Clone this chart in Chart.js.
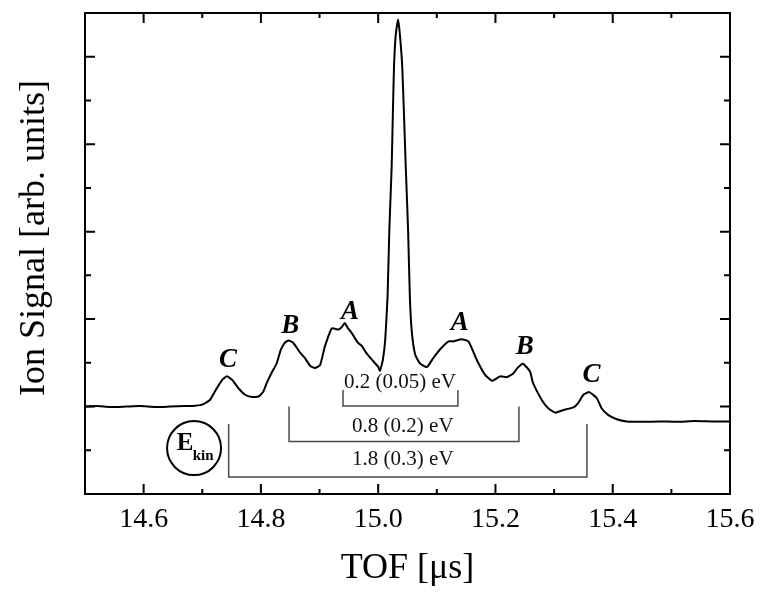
<!DOCTYPE html>
<html>
<head>
<meta charset="utf-8">
<title>TOF spectrum</title>
<script src="https://cdn.jsdelivr.net/npm/chart.js@4.4.1/dist/chart.umd.min.js"></script>
<style>
  html, body { margin: 0; padding: 0; background: #fff; }
  #wrap { width: 761px; height: 594px; }
</style>
</head>
<body>
<div id="wrap"><canvas id="tofChart" width="761" height="594"></canvas></div>
<script>
// time of flight [µs] and ion signal [arb. units]
const tofValues = [
  14.500, 14.520, 14.543, 14.570, 14.594, 14.620, 14.645, 14.670, 14.688, 14.701,
  14.713, 14.723, 14.734, 14.742, 14.751, 14.761, 14.773, 14.785, 14.796, 14.804,
  14.810, 14.819, 14.827, 14.834, 14.841, 14.847, 14.855, 14.867, 14.875, 14.884,
  14.892, 14.901, 14.909, 14.921, 14.932, 14.938, 14.943, 14.948, 14.955, 14.960,
  14.966, 14.972, 14.980, 14.992, 15.000, 15.003, 15.008, 15.012, 15.016, 15.019,
  15.023, 15.025, 15.027, 15.030, 15.034, 15.037, 15.041, 15.044, 15.047, 15.051,
  15.054, 15.057, 15.063, 15.071, 15.083, 15.094, 15.105, 15.120, 15.128, 15.142,
  15.154, 15.168, 15.182, 15.194, 15.208, 15.219, 15.230, 15.238, 15.247, 15.259,
  15.264, 15.279, 15.290, 15.302, 15.316, 15.333, 15.341, 15.350, 15.360, 15.373,
  15.381, 15.392, 15.407, 15.424, 15.450, 15.480, 15.510, 15.540, 15.570, 15.600
];
const signalValues = [
  0.00, 0.01, -0.01, 0.00, 0.01, -0.01, 0.00, 0.01, 0.02, 0.05,
  0.15, 0.38, 0.61, 0.69, 0.61, 0.43, 0.27, 0.22, 0.23, 0.34,
  0.54, 0.79, 0.99, 1.30, 1.46, 1.51, 1.46, 1.23, 1.11, 0.93,
  0.88, 0.95, 1.37, 1.79, 1.76, 1.82, 1.91, 1.80, 1.68, 1.57,
  1.45, 1.39, 1.22, 1.03, 0.91, 0.82, 1.07, 1.53, 2.52, 4.04,
  5.49, 6.68, 7.78, 8.51, 8.85, 8.51, 7.78, 6.68, 5.49, 4.04,
  2.52, 1.76, 1.19, 0.99, 0.90, 1.11, 1.30, 1.49, 1.49, 1.54,
  1.49, 1.07, 0.73, 0.59, 0.69, 0.67, 0.75, 0.89, 0.98, 0.80,
  0.54, 0.15, -0.04, -0.14, -0.08, -0.02, 0.08, 0.27, 0.33, 0.19,
  -0.04, -0.19, -0.29, -0.34, -0.35, -0.34, -0.35, -0.33, -0.34, -0.34
];

const xTickLabels = ["14.6", "14.8", "15.0", "15.2", "15.4", "15.6"];

// peak letters
const peakLetters = ["C", "B", "A", "A", "B", "C"];
const peakLetterX = [14.744, 14.850, 14.952, 15.139, 15.250, 15.364];
const peakLetterY = [1.07, 1.83, 2.17, 1.91, 1.37, 0.73];

// kinetic energy brackets
const bracketTexts = ["0.2 (0.05) eV", "0.8 (0.2) eV", "1.8 (0.3) eV"];
const bracketFrom = [14.940, 14.848, 14.745];
const bracketTo = [15.136, 15.240, 15.356];
const bracketTop = [0.38, 0.00, -0.40];
const bracketBottom = [0.01, -0.80, -1.61];
const bracketTextX = [15.037, 15.042, 15.042];
const bracketTextY = [0.54, -0.46, -1.22];

const SERIF = '"Liberation Serif", "Times New Roman", serif';

const points = tofValues.map((t, i) => ({ x: t, y: signalValues[i] }));

// box, inward ticks and the annotations
const frameAndNotes = {
  id: "frameAndNotes",
  afterDatasetsDraw(chart) {
    const { ctx, chartArea: a, scales: { x, y } } = chart;
    ctx.save();

    // brackets
    ctx.strokeStyle = "#4a4a4a";
    ctx.lineWidth = 1.5;
    ctx.fillStyle = "#111";
    ctx.font = "21px " + SERIF;
    ctx.textAlign = "center";
    ctx.textBaseline = "middle";
    bracketTexts.forEach((txt, i) => {
      const x0 = x.getPixelForValue(bracketFrom[i]);
      const x1 = x.getPixelForValue(bracketTo[i]);
      const yt = y.getPixelForValue(bracketTop[i]);
      const yb = y.getPixelForValue(bracketBottom[i]);
      ctx.beginPath();
      ctx.moveTo(x0, yt);
      ctx.lineTo(x0, yb);
      ctx.lineTo(x1, yb);
      ctx.lineTo(x1, yt);
      ctx.stroke();
      ctx.fillText(txt, x.getPixelForValue(bracketTextX[i]), y.getPixelForValue(bracketTextY[i]));
    });

    // peak letters
    ctx.fillStyle = "#000";
    ctx.font = "italic bold 27px " + SERIF;
    peakLetters.forEach((l, i) => {
      ctx.fillText(l, x.getPixelForValue(peakLetterX[i]), y.getPixelForValue(peakLetterY[i]));
    });

    // E_kin circle
    const cx = x.getPixelForValue(14.686), cy = y.getPixelForValue(-0.95);
    ctx.strokeStyle = "#000";
    ctx.lineWidth = 2;
    ctx.beginPath();
    ctx.arc(cx, cy, 27, 0, Math.PI * 2);
    ctx.stroke();
    ctx.font = "bold 25px " + SERIF;
    ctx.fillText("E", cx - 9, cy - 5);
    ctx.font = "bold 15px " + SERIF;
    ctx.fillText("kin", cx + 9, cy + 8);

    // frame
    ctx.lineWidth = 2;
    ctx.strokeRect(a.left, a.top, a.right - a.left, a.bottom - a.top);

    // x ticks, top and bottom
    ctx.beginPath();
    for (let k = 1; k < 11; k++) {
      const v = 14.5 + k * 0.1;
      const px = x.getPixelForValue(v);
      const len = k % 2 === 1 ? 10 : 5;
      ctx.moveTo(px, a.bottom);
      ctx.lineTo(px, a.bottom - len);
      ctx.moveTo(px, a.top);
      ctx.lineTo(px, a.top + len);
    }
    // y ticks, left and right
    for (let v = -1; v <= 8; v++) {
      const py = y.getPixelForValue(v);
      const len = v % 2 === 0 ? 10 : 6;
      ctx.moveTo(a.left, py);
      ctx.lineTo(a.left + len, py);
      ctx.moveTo(a.right, py);
      ctx.lineTo(a.right - len, py);
    }
    ctx.stroke();

    // y axis title
    ctx.translate(35, 238);
    ctx.rotate(-Math.PI / 2);
    ctx.font = "36px " + SERIF;
    ctx.fillText("Ion Signal [arb. units]", 0, 0);

    ctx.restore();
  }
};

new Chart(document.getElementById("tofChart"), {
  type: "line",
  data: {
    datasets: [{
      data: points,
      borderColor: "#000",
      borderWidth: 2,
      pointRadius: 0,
      tension: 0.15,
      fill: false
    }]
  },
  options: {
    responsive: false,
    animation: false,
    devicePixelRatio: 1,
    layout: { padding: { top: 13, right: 31, left: 0, bottom: 0 } },
    plugins: { legend: { display: false }, tooltip: { enabled: false } },
    scales: {
      x: {
        type: "linear",
        min: 14.5,
        max: 15.6,
        grid: { display: false, drawTicks: false },
        border: { display: false },
        afterBuildTicks: s => { s.ticks = xTickLabels.map(t => ({ value: parseFloat(t) })); },
        afterFit: s => { s.height = 100; s.paddingLeft = 0; s.paddingRight = 0; },
        ticks: {
          padding: 9,
          color: "#000",
          font: { family: SERIF, size: 28 },
          callback: v => v.toFixed(1)
        },
        title: {
          display: true,
          text: "TOF [μs]",
          color: "#000",
          font: { family: SERIF, size: 36 },
          padding: { top: 0, bottom: 4 }
        }
      },
      y: {
        min: -2,
        max: 9,
        grid: { display: false, drawTicks: false },
        border: { display: false },
        ticks: { display: false },
        afterFit: s => { s.width = 85; s.paddingTop = 0; s.paddingBottom = 0; }
      }
    }
  },
  plugins: [frameAndNotes]
});
</script>
</body>
</html>
